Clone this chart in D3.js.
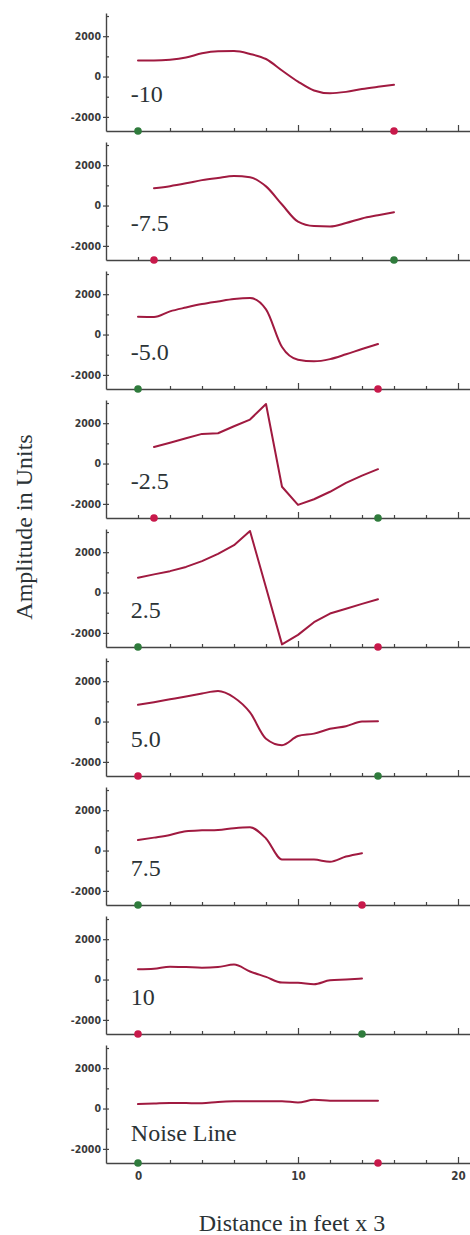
<!DOCTYPE html>
<html>
<head>
<meta charset="utf-8">
<script src="https://cdn.jsdelivr.net/npm/d3@7"></script>
<style>
   body { margin: 0; background: #fff; }
   svg { display: block; }
   .tick text { font-family: "DejaVu Sans Condensed", "DejaVu Sans", sans-serif; font-weight: bold; fill: #3a3a3a; }
</style>
</head>
<body>
<svg></svg>
<script>
// panel labels, top to bottom
const labels = ['-10', '-7.5', '-5.0', '-2.5', '2.5', '5.0', '7.5', '10', 'Noise Line'];

// first distance value of each trace, then one sample per unit
const starts = [0, 1, 0, 1, 0, 0, 0, 0, 0];

const amp_m10  = [790, 790, 830, 940, 1150, 1250, 1260, 1120, 870, 300, -250, -690, -830, -760, -620, -510, -410];
const amp_m75  = [860, 960, 1100, 1260, 1370, 1460, 1400, 950, 50, -800, -1020, -1040, -870, -640, -480, -330];
const amp_m50  = [880, 870, 1150, 1340, 1510, 1640, 1760, 1810, 1250, -620, -1250, -1330, -1220, -980, -720, -470];
const amp_m25  = [820, 1030, 1250, 1470, 1500, 1850, 2180, 2950, -1150, -2050, -1770, -1400, -960, -600, -280];
const amp_p25  = [730, 900, 1060, 1270, 1560, 1920, 2350, 3050, 250, -2570, -2100, -1470, -1040, -800, -560, -330];
const amp_p50  = [830, 960, 1100, 1240, 1390, 1510, 1190, 450, -850, -1170, -720, -600, -360, -230, 0, 10];
const amp_p75  = [520, 640, 770, 960, 1000, 1020, 1110, 1150, 600, -440, -440, -450, -560, -300, -130];
const amp_p10  = [510, 540, 640, 620, 590, 620, 740, 400, 130, -150, -160, -230, -40, 0, 50];
const amp_noise = [220, 250, 280, 270, 260, 330, 360, 365, 365, 365, 300, 430, 390, 380, 380, 380];

const series = [amp_m10, amp_m75, amp_m50, amp_m25, amp_p25, amp_p50, amp_p75, amp_p10, amp_noise];

// marker positions on each distance axis
const greenMarks = [0, 16, 0, 15, 0, 15, 0, 14, 0];
const redMarks   = [16, 1, 15, 1, 15, 0, 14, 0, 15];

const xTicks = [0, 2, 4, 6, 8, 10, 12, 14, 16, 18, 20];
const xLabels = [0, 10, 20];
const yTicks = [-2000, -1000, 0, 1000, 2000, 3000];
const yLabels = [-2000, 0, 2000];

const WIDTH = 470,
      HEIGHT = 1235,
      LEFT = 106,
      FIRST_BOTTOM = 131,
      STEP = 129,
      PANEL_H = 118,
      LINE_COL = '#a01a40',
      GREEN = '#2f7b3c',
      RED = '#c8194b',
      AXIS_COL = '#444',
      SHARP = [3, 4]; // panels drawn with straight segments (sharp peak)

let svg = d3.select('svg')
   .attr('width', WIDTH)
   .attr('height', HEIGHT);

const x = d3.scaleLinear().domain([-2, 20.75]).range([LEFT, WIDTH]);

const fmt = (d) => d < 0 ? '-' + Math.abs(d) : '' + d;

series.forEach((vals, i) => {
   const bottom = FIRST_BOTTOM + STEP * i;
   const y = d3.scaleLinear().domain([-2700, 3150]).range([bottom, bottom - PANEL_H]);
   const last = i === series.length - 1;

   let g = svg.append('g');

   // left axis: all ticks point inward, labels on major ones
   let ya = g.append('g')
      .attr('transform', 'translate(' + LEFT + ',0)')
      .call(d3.axisLeft(y)
         .tickValues(yTicks)
         .tickSizeInner(-3)
         .tickSizeOuter(0)
         .tickPadding(5)
         .tickFormat(d => yLabels.indexOf(d) >= 0 ? fmt(d) : ''));
   ya.selectAll('text').style('font-size', '10.5px');
   ya.select('.domain').attr('stroke', AXIS_COL).attr('stroke-width', 1.4);
   ya.selectAll('line').attr('stroke', AXIS_COL).attr('stroke-width', 1.2);

   // major y ticks cross the axis
   g.append('g')
      .attr('transform', 'translate(' + LEFT + ',0)')
      .call(d3.axisLeft(y).tickValues(yLabels).tickSize(3).tickFormat(''))
      .call(s => s.select('.domain').remove())
      .selectAll('line').attr('stroke', AXIS_COL).attr('stroke-width', 1.2);

   // distance axis
   let xa = g.append('g')
      .attr('transform', 'translate(0,' + bottom + ')')
      .call(d3.axisBottom(x)
         .tickValues(xTicks)
         .tickSizeInner(-3)
         .tickSizeOuter(0)
         .tickPadding(9)
         .tickFormat(d => last && xLabels.indexOf(d) >= 0 ? d : ''));
   xa.selectAll('text').style('font-size', '11.5px');
   xa.select('.domain').attr('stroke', AXIS_COL).attr('stroke-width', 1.6);
   xa.selectAll('line').attr('stroke', AXIS_COL).attr('stroke-width', 1.2)
      .attr('y2', d => d % 10 === 0 && d > 0 ? -6 : -3);

   const data = vals.map((v, j) => ({ dist: starts[i] + j, amp: v }));

   const line = d3.line()
      .curve(SHARP.indexOf(i) >= 0 ? d3.curveLinear : d3.curveMonotoneX)
      .x(d => x(d.dist))
      .y(d => y(d.amp));

   g.append('path')
      .datum(data)
      .attr('fill', 'none')
      .attr('stroke', LINE_COL)
      .attr('stroke-width', 2)
      .attr('stroke-linejoin', 'round')
      .attr('stroke-linecap', 'round')
      .attr('d', line);

   g.append('circle')
      .attr('cx', x(greenMarks[i]))
      .attr('cy', bottom)
      .attr('r', 3.8)
      .attr('fill', GREEN);

   g.append('circle')
      .attr('cx', x(redMarks[i]))
      .attr('cy', bottom)
      .attr('r', 3.8)
      .attr('fill', RED);

   g.append('text')
      .attr('x', x(-0.45))
      .attr('y', bottom - (last ? 22 : 29))
      .attr('font-family', '"Liberation Serif", "DejaVu Serif", serif')
      .attr('font-size', '24px')
      .attr('fill', '#2b3336')
      .text(labels[i]);
});

svg.append('text')
   .attr('x', (LEFT + WIDTH) / 2 + 4)
   .attr('y', 1231)
   .attr('text-anchor', 'middle')
   .attr('font-family', '"Liberation Serif", "DejaVu Serif", serif')
   .attr('font-size', '24px')
   .attr('fill', '#2b3336')
   .text('Distance in feet x 3');

svg.append('text')
   .attr('transform', 'translate(32,527) rotate(-90)')
   .attr('text-anchor', 'middle')
   .attr('font-family', '"Liberation Serif", "DejaVu Serif", serif')
   .attr('font-size', '24px')
   .attr('fill', '#2b3336')
   .text('Amplitude in Units');
</script>
</body>
</html>
